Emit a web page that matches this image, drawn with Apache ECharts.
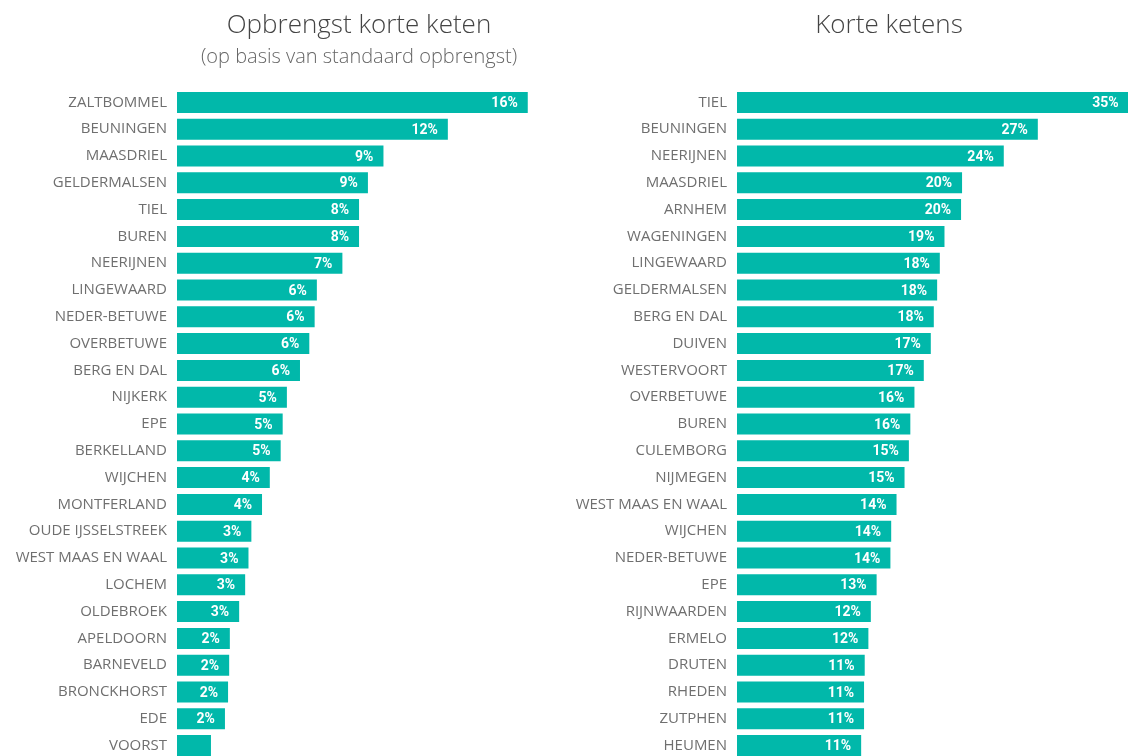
<!DOCTYPE html>
<html>
<head>
<meta charset="utf-8">
<script src="https://cdn.jsdelivr.net/npm/echarts@6.0.0/dist/echarts.min.js"></script>
<style>
  html, body { margin: 0; padding: 0; background: #fff; overflow: hidden; }
  /* the chart is a bit larger than the window, the reference is cropped at right and bottom */
  #main { width: 1200px; height: 800px; }
</style>
</head>
<body>
<div id="main"></div>
<script>
// Opbrengst korte keten (op basis van standaard opbrengst), in %
const leftNames = ['ZALTBOMMEL', 'BEUNINGEN', 'MAASDRIEL', 'GELDERMALSEN', 'TIEL', 'BUREN', 'NEERIJNEN',
  'LINGEWAARD', 'NEDER-BETUWE', 'OVERBETUWE', 'BERG EN DAL', 'NIJKERK', 'EPE', 'BERKELLAND', 'WIJCHEN',
  'MONTFERLAND', 'OUDE IJSSELSTREEK', 'WEST MAAS EN WAAL', 'LOCHEM', 'OLDEBROEK', 'APELDOORN',
  'BARNEVELD', 'BRONCKHORST', 'EDE', 'VOORST'];
const leftValues = [15.8, 12.2, 9.3, 8.6, 8.2, 8.2, 7.45, 6.3, 6.2, 5.96, 5.54, 4.95, 4.76, 4.67, 4.18,
  3.83, 3.35, 3.22, 3.07, 2.8, 2.38, 2.35, 2.3, 2.16, 1.53];

// Korte ketens, in %
const rightNames = ['TIEL', 'BEUNINGEN', 'NEERIJNEN', 'MAASDRIEL', 'ARNHEM', 'WAGENINGEN', 'LINGEWAARD',
  'GELDERMALSEN', 'BERG EN DAL', 'DUIVEN', 'WESTERVOORT', 'OVERBETUWE', 'BUREN', 'CULEMBORG', 'NIJMEGEN',
  'WEST MAAS EN WAAL', 'WIJCHEN', 'NEDER-BETUWE', 'EPE', 'RIJNWAARDEN', 'ERMELO', 'DRUTEN', 'RHEDEN',
  'ZUTPHEN', 'HEUMEN'];
const rightValues = [35.2, 27.04, 23.98, 20.23, 20.14, 18.65, 18.23, 17.99, 17.69, 17.42, 16.79, 15.95,
  15.58, 15.45, 15.06, 14.34, 13.86, 13.79, 12.55, 12.03, 11.81, 11.48, 11.42, 11.42, 11.16];

const barColor = '#01B8AA';

const myChart = echarts.init(document.getElementById('main'));

const catAxis = (idx, names) => ({
  type: 'category',
  gridIndex: idx,
  data: names,
  inverse: true,
  axisLine: { show: false },
  axisTick: { show: false },
  axisLabel: {
    color: '#6f6f6f',
    fontFamily: 'Open Sans',
    fontSize: 15,
    margin: 10
  }
});

const barLabel = {
  show: true,
  position: 'insideRight',
  distance: 10,
  offset: [0, 1],
  color: '#fff',
  fontFamily: 'Roboto',
  fontWeight: 'bold',
  fontSize: 14,
  formatter: p => Math.round(p.value) + '%'
};

const option = {
  animation: false,
  title: [
    {
      text: 'Opbrengst korte keten',
      subtext: '(op basis van standaard opbrengst)',
      left: 354,
      top: 8,
      textAlign: 'center',
      itemGap: 8,
      textStyle: { fontFamily: 'Open Sans', fontWeight: 300, fontSize: 26, color: '#444' },
      subtextStyle: { fontFamily: 'Open Sans', fontWeight: 300, fontSize: 20, color: '#666' }
    },
    {
      text: 'Korte ketens',
      left: 884,
      top: 8,
      textAlign: 'center',
      textStyle: { fontFamily: 'Open Sans', fontWeight: 300, fontSize: 26, color: '#444' }
    }
  ],
  grid: [
    { left: 177, top: 89, width: 444, height: 670 },
    { left: 737, top: 89, width: 445, height: 670 }
  ],
  xAxis: [
    { type: 'value', gridIndex: 0, min: 0, max: 20, show: false },
    { type: 'value', gridIndex: 1, min: 0, max: 40, show: false }
  ],
  yAxis: [catAxis(0, leftNames), catAxis(1, rightNames)],
  series: [
    {
      type: 'bar',
      xAxisIndex: 0,
      yAxisIndex: 0,
      barWidth: 21,
      itemStyle: { color: barColor },
      label: barLabel,
      // the last bar is cut off at the bottom, its label is not shown
      data: leftValues.map((v, i) => i === leftValues.length - 1 ? { value: v, label: { show: false } } : v)
    },
    {
      type: 'bar',
      xAxisIndex: 1,
      yAxisIndex: 1,
      barWidth: 21,
      itemStyle: { color: barColor },
      label: barLabel,
      data: rightValues
    }
  ]
};

myChart.setOption(option);
</script>
</body>
</html>
